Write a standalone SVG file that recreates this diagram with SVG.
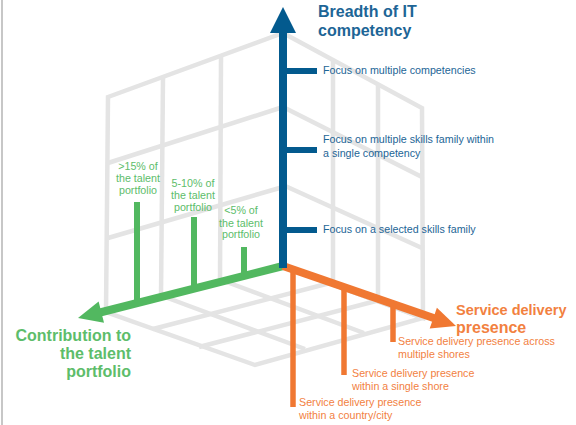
<svg xmlns="http://www.w3.org/2000/svg" width="576" height="425" viewBox="0 0 576 425">
<style>
.g{fill:none;stroke:#e4e4e4;stroke-width:4.5;stroke-linejoin:miter}
.t{font-family:"Liberation Sans",Arial,sans-serif;font-size:10.7px}
.b{font-family:"Liberation Sans",Arial,sans-serif;font-size:16px;font-weight:bold}
.blue{fill:#1d6596}
.green{fill:#5dbd6a}
.orange{fill:#f2813f}
</style>
<rect width="576" height="425" fill="#ffffff"/>
<line x1="2" y1="0" x2="2" y2="425" stroke="#b4b4b4" stroke-width="1.5"/>
<g id="grid">
  <polygon class="g" points="108,97 283,33 283,266 106,312"/>
  <line class="g" x1="163" y1="77" x2="161" y2="297"/>
  <line class="g" x1="221" y1="56" x2="220" y2="282"/>
  <line class="g" x1="108" y1="163" x2="283" y2="107"/>
  <line class="g" x1="108" y1="238" x2="283" y2="187"/>
  <polygon class="g" points="283,33 422,108 423,318 283,266"/>
  <line class="g" x1="333" y1="60" x2="333" y2="285"/>
  <line class="g" x1="378" y1="84" x2="378" y2="301"/>
  <line class="g" x1="283" y1="107" x2="422" y2="177"/>
  <line class="g" x1="283" y1="185" x2="422" y2="248"/>
  <polygon class="g" points="283,266 106,312 255,365 423,318"/>
  <line class="g" x1="224" y1="281" x2="364" y2="333"/>
  <line class="g" x1="165" y1="297" x2="305" y2="349"/>
  <line class="g" x1="330" y1="283" x2="153" y2="329"/>
  <line class="g" x1="376" y1="301" x2="199" y2="347"/>
</g>
<g id="connectors">
  <g id="axis-contribution" stroke="#52b860" fill="#52b860">
    <line x1="283" y1="266" x2="100" y2="312.5" stroke-width="8"/>
    <polygon points="78,318 104,322.8 98.6,301.4" stroke="none"/>
    <line x1="137" y1="202" x2="137" y2="300" stroke-width="6"/>
    <line x1="194" y1="217" x2="194" y2="286" stroke-width="6"/>
    <line x1="244" y1="247" x2="244" y2="274" stroke-width="6"/>
  </g>
  <g id="axis-service" stroke="#f07832" fill="#f07832">
    <line x1="283" y1="266" x2="435" y2="318.5" stroke-width="8"/>
    <polygon points="456,326 429.7,328.5 436.9,307.7" stroke="none"/>
    <line x1="293" y1="269" x2="293" y2="407" stroke-width="5.5"/>
    <line x1="344" y1="286" x2="344" y2="375" stroke-width="5.5"/>
    <line x1="393" y1="303" x2="393" y2="342" stroke-width="5.5"/>
  </g>
  <g id="axis-breadth" stroke="#035a8e" fill="#035a8e">
    <line x1="283" y1="268" x2="283" y2="30" stroke-width="8"/>
    <polygon points="283,7 270,33 296,33" stroke="none"/>
    <line x1="283" y1="71" x2="317" y2="71" stroke-width="6"/>
    <line x1="283" y1="150" x2="317" y2="150" stroke-width="6"/>
    <line x1="283" y1="230" x2="317" y2="230" stroke-width="6"/>
  </g>
</g>
<g id="title-breadth">
  <text class="b blue" x="318" y="17">Breadth of IT</text>
  <text class="b blue" x="318" y="35.5">competency</text>
</g>
<g id="label-competencies">
  <text class="t blue" x="323" y="73.5">Focus on multiple competencies</text>
</g>
<g id="label-skills-family">
  <text class="t blue" x="323" y="142.5">Focus on multiple skills family within</text>
  <text class="t blue" x="323" y="157">a single competency</text>
</g>
<g id="label-selected">
  <text class="t blue" x="323" y="232.5">Focus on a selected skills family</text>
</g>
<g id="title-contribution" text-anchor="end">
  <text class="b green" x="131" y="341">Contribution to</text>
  <text class="b green" x="131" y="359">the talent</text>
  <text class="b green" x="131" y="377">portfolio</text>
</g>
<g id="label-15" text-anchor="middle">
  <text class="t green" x="138" y="169.5">&gt;15% of</text>
  <text class="t green" x="138" y="182">the talent</text>
  <text class="t green" x="138" y="194">portfolio</text>
</g>
<g id="label-5-10" text-anchor="middle">
  <text class="t green" x="193" y="187">5-10% of</text>
  <text class="t green" x="193" y="199">the talent</text>
  <text class="t green" x="193" y="210.5">portfolio</text>
</g>
<g id="label-5" text-anchor="middle">
  <text class="t green" x="241" y="214">&lt;5% of</text>
  <text class="t green" x="241" y="226.5">the talent</text>
  <text class="t green" x="241" y="238">portfolio</text>
</g>
<g id="title-service">
  <text class="b orange" x="456" y="315" style="font-size:14.5px">Service delivery</text>
  <text class="b orange" x="456" y="332.5">presence</text>
</g>
<g id="label-multiple-shores">
  <text class="t orange" x="398" y="345">Service delivery presence across</text>
  <text class="t orange" x="398" y="357.5">multiple shores</text>
</g>
<g id="label-single-shore">
  <text class="t orange" x="352" y="377">Service delivery presence</text>
  <text class="t orange" x="352" y="389.5">within a single shore</text>
</g>
<g id="label-country">
  <text class="t orange" x="299" y="406">Service delivery presence</text>
  <text class="t orange" x="299" y="419">within a country/city</text>
</g>
</svg>
